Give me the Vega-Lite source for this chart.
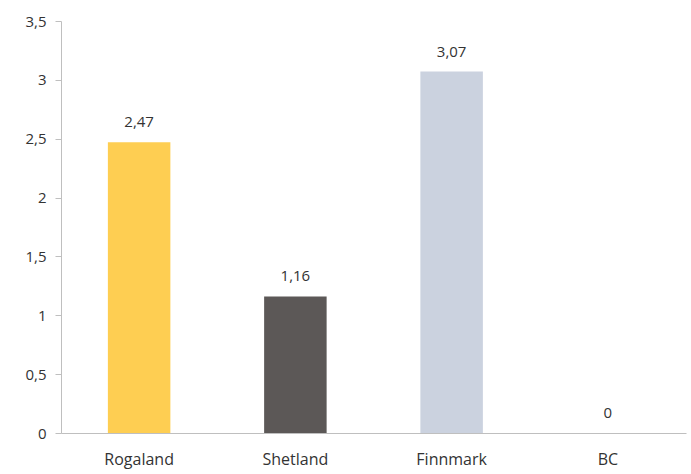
{
  "$schema": "https://vega.github.io/schema/vega-lite/v6.json",
  "autosize": "none",
  "width": 625,
  "height": 412,
  "padding": {"left": 61, "top": 21, "right": 5, "bottom": 41},
  "background": "white",
  "data": {"values": [
    {"region": "Rogaland", "value": 2.47},
    {"region": "Shetland", "value": 1.16},
    {"region": "Finnmark", "value": 3.07},
    {"region": "BC", "value": 0}
  ]},
  "encoding": {
    "x": {"field": "region", "type": "nominal", "sort": null,
      "scale": {"paddingInner": 0.6, "paddingOuter": 0.3},
      "axis": {"title": null, "labelAngle": 0, "ticks": false, "domainColor": "#BFBFBF", "labelColor": "#333333", "labelFontSize": 16, "labelFont": "Open Sans", "labelPadding": 18}},
    "y": {"field": "value", "type": "quantitative",
      "scale": {"domain": [0, 3.5], "nice": false, "zero": true},
      "axis": {"title": null, "grid": false, "values": [0, 0.5, 1, 1.5, 2, 2.5, 3, 3.5], "labelExpr": "replace(format(datum.value, '.1~f'), '.', ',')", "labelOverlap": false, "labelFlush": false, "domainColor": "#BFBFBF", "tickColor": "#BFBFBF", "tickSize": 6, "labelColor": "#333333", "labelFontSize": 15, "labelFont": "Open Sans", "labelPadding": 9}}
  },
  "layer": [
    {"mark": {"type": "bar"},
     "encoding": {"color": {"field": "region", "type": "nominal", "legend": null,
       "scale": {"domain": ["Rogaland", "Shetland", "Finnmark", "BC"], "range": ["#FECE52", "#5C5857", "#CBD2DF", "#FFFFFF"]}}}},
    {"mark": {"type": "text", "baseline": "bottom", "dy": -12, "fontSize": 15, "font": "Open Sans", "color": "#333333"},
     "encoding": {"text": {"field": "value", "type": "quantitative", "format": ".2~f"}}}
  ],
  "config": {
    "view": {"stroke": null},
    "locale": {"number": {"decimal": ",", "thousands": ".", "grouping": [3], "currency": ["", " kr"]}}
  }
}
